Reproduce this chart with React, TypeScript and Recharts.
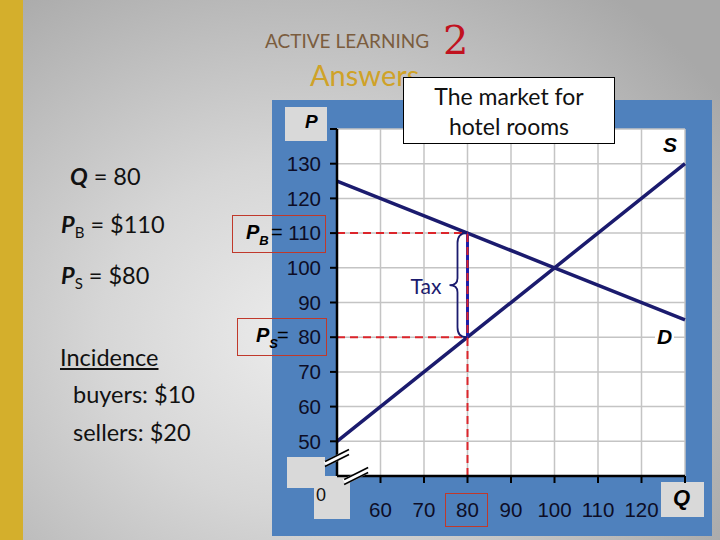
import React from "react";
import {
  LineChart,
  Line,
  XAxis,
  YAxis,
  CartesianGrid,
  ReferenceLine,
  ReferenceDot,
} from "recharts";

// market for hotel rooms, with a tax wedge
const quantities = [50, 80, 100, 130];
const supplyPrices = [50, 80, 100, 130];
const demandPrices = [125, 110, 100, 85];
const xTicks = [60, 70, 80, 90, 100, 110, 120, 130];
const yTicks = [50, 60, 70, 80, 90, 100, 110, 120, 130, 140];

const taxQty = 80;
const buyerPrice = 110;
const sellerPrice = 80;
const qMin = 50;
const pMin = 40;

const data = quantities.map((q, i) => ({
  q,
  supply: supplyPrices[i],
  demand: demandPrices[i],
}));

const NAVY = "#1b1b6e";
const RED = "#dc252b";
const body = "Lato, 'Liberation Sans', sans-serif";
const tickFont = { fill: "#0d0d26", fontSize: 20.5, fontFamily: "'Liberation Sans', Arial" };

const Brace = (props: any) => {
  const { x1, y1, y2 } = props;
  const top = Math.min(y1, y2);
  const bot = Math.max(y1, y2);
  const mid = (top + bot) / 2;
  const sx = x1 - 10;
  const tx = x1 - 18;
  const d = `M ${x1 - 1} ${top} Q ${sx} ${top} ${sx} ${top + 10} L ${sx} ${mid - 7} Q ${sx} ${mid} ${tx} ${mid} Q ${sx} ${mid} ${sx} ${mid + 7} L ${sx} ${bot - 10} Q ${sx} ${bot} ${x1 - 1} ${bot}`;
  return (
    <g>
      <path d={d} fill="none" stroke={NAVY} strokeWidth={1.8} />
      <text x={tx - 8} y={mid} textAnchor="end" dominantBaseline="central" fill={NAVY} fontSize={21} fontFamily={body}>
        Tax
      </text>
    </g>
  );
};

const AxisBreak = ({ cx, cy }: any) => (
  <g>
    <line x1={cx - 12} y1={cy + 6} x2={cx + 12} y2={cy - 6} stroke="#fff" strokeWidth={6} />
    <line x1={cx - 12} y1={cy + 3.5} x2={cx + 12} y2={cy - 8.5} stroke="#000" strokeWidth={1.6} />
    <line x1={cx - 12} y1={cy + 8.5} x2={cx + 12} y2={cy - 3.5} stroke="#000" strokeWidth={1.6} />
  </g>
);

const abs = (s: React.CSSProperties): React.CSSProperties => ({ position: "absolute", ...s });
const grayBox = { background: "#d9d9d9" };
const redBox = { border: "1px solid #c0392b", boxSizing: "border-box" as const };
const sub = { fontSize: 15, verticalAlign: -5 };
const boxSub = { fontSize: 13, verticalAlign: -6, fontWeight: 700, fontStyle: "italic" as const };
const boxText = { fontSize: 20, color: "#000", fontFamily: "'Liberation Sans'" };

export default function App() {
  return (
    <div
      style={abs({
        left: 0,
        top: 0,
        width: 720,
        height: 540,
        overflow: "hidden",
        background:
          "radial-gradient(ellipse 70% 80% at 42% 62%, #ececec 0%, #d6d6d6 40%, #a8a8a8 100%)",
        fontFamily: body,
      })}
    >
      <div style={abs({ left: 0, top: 0, width: 23, height: 540, background: "#d4af2c" })} />

      {/* header */}
      <div style={abs({ left: 265, top: 29, fontSize: 19, color: "#7b5d3e" })}>ACTIVE LEARNING</div>
      <div style={abs({ left: 443, top: 17, fontSize: 40, color: "#c1121f", fontFamily: "'DejaVu Serif', serif" })}>
        2
      </div>
      <div style={abs({ left: 310, top: 57, fontSize: 29, color: "#cfa228" })}>Answers</div>

      {/* left text */}
      <div style={abs({ left: 70, top: 162, fontSize: 23.5, color: "#111" })}>
        <b><i>Q</i></b> = 80
      </div>
      <div style={abs({ left: 61, top: 210, fontSize: 23.5, color: "#111" })}>
        <b><i>P</i></b><span style={sub}>B</span> = $110
      </div>
      <div style={abs({ left: 61, top: 261, fontSize: 23.5, color: "#111" })}>
        <b><i>P</i></b><span style={sub}>S</span> = $80
      </div>
      <div style={abs({ left: 60, top: 343, fontSize: 23.5, color: "#111", textDecoration: "underline" })}>
        Incidence
      </div>
      <div style={abs({ left: 73, top: 380, fontSize: 23.5, color: "#111" })}>buyers: $10</div>
      <div style={abs({ left: 73, top: 418, fontSize: 23.5, color: "#111" })}>sellers: $20</div>

      {/* blue panel */}
      <div style={abs({ left: 272, top: 100, width: 440, height: 436, background: "#4f81bd" })} />
      <div style={abs({ left: 285, top: 107, width: 42, height: 34, ...grayBox })} />
      <div style={abs({ left: 305, top: 111, fontSize: 19, fontWeight: 700, fontStyle: "italic", fontFamily: "'Liberation Sans'" })}>
        P
      </div>
      <div style={abs({ left: 287, top: 457, width: 38, height: 31, ...grayBox })} />
      <div style={abs({ left: 314, top: 476, width: 36, height: 43, ...grayBox })} />
      <div style={abs({ left: 316, top: 485, fontSize: 18, color: "#111", fontFamily: "'Liberation Sans'" })}>0</div>
      <div style={abs({ left: 661, top: 482, width: 43, height: 35, ...grayBox })} />
      <div style={abs({ left: 673, top: 485, fontSize: 22, fontWeight: 700, fontStyle: "italic", fontFamily: "'Liberation Sans'" })}>
        Q
      </div>

      {/* red boxes */}
      <div style={abs({ left: 232, top: 215, width: 94, height: 38, ...redBox })} />
      <div style={abs({ left: 246, top: 221, ...boxText })}>
        <b><i>P</i></b><span style={boxSub}>B</span>
      </div>
      <div style={abs({ left: 271, top: 221, ...boxText })}>=</div>
      <div style={abs({ left: 237, top: 318, width: 90, height: 38, ...redBox })} />
      <div style={abs({ left: 256, top: 324, ...boxText })}>
        <b><i>P</i></b><span style={boxSub}>S</span>
      </div>
      <div style={abs({ left: 277, top: 324, ...boxText })}>=</div>
      <div style={abs({ left: 445, top: 493, width: 43, height: 34, ...redBox })} />

      <LineChart
        width={720}
        height={540}
        data={data}
        margin={{ top: 129, right: 35, bottom: 14, left: 277 }}
        style={{ position: "absolute", left: 0, top: 0 }}
      >
        <CartesianGrid fill="#fff" stroke="#c4c4c4" strokeWidth={1.5} />
        <XAxis
          dataKey="q"
          type="number"
          domain={[qMin, 130]}
          ticks={xTicks}
          height={50}
          axisLine={{ stroke: "#000", strokeWidth: 2.5 }}
          tickLine={{ stroke: "#000", strokeWidth: 2 }}
          tickSize={7}
          tickMargin={19}
          tick={tickFont}
          tickFormatter={(v: number) => (v === 130 ? "" : String(v))}
        />
        <YAxis
          type="number"
          domain={[pMin, 140]}
          ticks={yTicks}
          width={60}
          axisLine={{ stroke: "#000", strokeWidth: 2.5 }}
          tickLine={{ stroke: "#000", strokeWidth: 2 }}
          tickSize={7}
          tickMargin={9}
          tick={tickFont}
          tickFormatter={(v: number) => (v === 140 ? "" : String(v))}
        />
        <Line dataKey="demand" stroke={NAVY} strokeWidth={3.5} dot={false} isAnimationActive={false} />
        <Line dataKey="supply" stroke={NAVY} strokeWidth={3.5} dot={false} isAnimationActive={false} />
        <ReferenceLine
          segment={[{ x: taxQty, y: sellerPrice }, { x: taxQty, y: buyerPrice }]}
          stroke="#1f1fa8"
          strokeWidth={3}
        />
        <ReferenceLine
          segment={[{ x: qMin, y: buyerPrice }, { x: taxQty, y: buyerPrice }]}
          stroke={RED}
          strokeWidth={2}
          strokeDasharray="8 5"
        />
        <ReferenceLine
          segment={[{ x: qMin, y: sellerPrice }, { x: taxQty, y: sellerPrice }]}
          stroke={RED}
          strokeWidth={2}
          strokeDasharray="8 5"
        />
        <ReferenceLine
          segment={[{ x: taxQty, y: pMin }, { x: taxQty, y: buyerPrice }]}
          stroke={RED}
          strokeWidth={2}
          strokeDasharray="8 5"
        />
        <ReferenceLine
          segment={[{ x: taxQty, y: sellerPrice }, { x: taxQty, y: buyerPrice }]}
          shape={Brace}
        />
        <ReferenceDot x={qMin} y={45.2} r={0} shape={AxisBreak} />
        <ReferenceDot x={54.4} y={pMin} r={0} shape={AxisBreak} />
      </LineChart>

      {/* curve labels and title */}
      <div style={abs({ left: 663, top: 133, fontSize: 21, fontWeight: 700, fontStyle: "italic", fontFamily: "'Liberation Sans'" })}>
        S
      </div>
      <div
        style={abs({
          left: 655,
          top: 325,
          padding: "0 2px",
          background: "#fff",
          fontSize: 21,
          fontWeight: 700,
          fontStyle: "italic",
          fontFamily: "'Liberation Sans'",
        })}
      >
        D
      </div>
      <div
        style={abs({
          left: 403,
          top: 77,
          width: 212,
          height: 67,
          boxSizing: "border-box",
          background: "#fff",
          border: "1px solid #000",
          textAlign: "center",
          fontSize: 23,
          lineHeight: "30px",
          paddingTop: 3,
          color: "#111",
        })}
      >
        The market for
        <br />
        hotel rooms
      </div>
    </div>
  );
}
